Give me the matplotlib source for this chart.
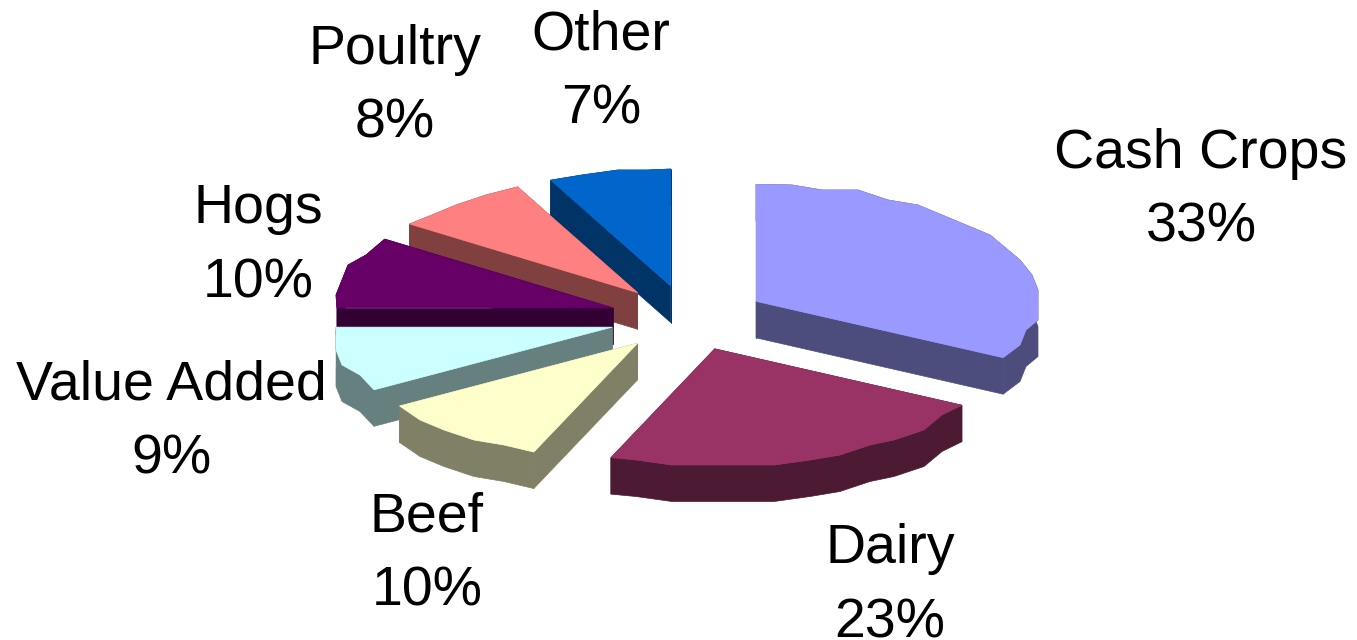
import numpy as np
import matplotlib
matplotlib.use("Agg")
import matplotlib.pyplot as plt

labels = ["Cash Crops", "Dairy", "Beef", "Value Added", "Hogs", "Poultry", "Other"]
shares = [33, 23, 10, 9, 10, 8, 7]
colors = ["#9999FF", "#993366", "#FFFFCC", "#CCFFFF", "#660066", "#FF8080", "#0066CC"]
side_colors = ["#4D4D7D", "#4D1A33", "#808066", "#668080", "#330033", "#804040", "#003366"]
# first-line baselines of the two-line labels
label_pos = [(1201, 168), (890, 563), (427, 532), (171, 400), (258, 223), (395, 64), (601, 50)]

# pie geometry, in image pixels
cx, cy = 688, 318
rx, ry = 282, 117
left_limit = 276  # the original rim is cut flat on the left
explode = 79
depth = 36.5
step = np.radians(7)  # the rim is a rough polyline in the original
snap_x, snap_y = 6, 5

plt.rcParams["font.family"] = ["Liberation Sans", "DejaVu Sans"]
fig = plt.figure(figsize=(13.57, 6.40), dpi=100)
ax = fig.add_axes([0, 0, 1, 1])
ax.set_xlim(0, 1357)
ax.set_ylim(640, 0)
ax.axis("off")

edges = np.cumsum([0] + shares) / sum(shares) * 2 * np.pi


def wedge(start, end):
    mid = (start + end) / 2
    x0 = cx + explode * np.sin(mid)
    y0 = cy - explode * ry / rx * np.cos(mid)
    t = np.r_[start, np.arange(start + step, end - step / 2, step), end]
    x = x0 + np.maximum(rx * np.sin(t), -left_limit)
    y = y0 - ry * np.cos(t)
    # snap the inner rim points, keeping the two corners
    x[1:-1] = np.round(x[1:-1] / snap_x) * snap_x
    y[1:-1] = np.round(y[1:-1] / snap_y) * snap_y
    return x0, y0, x, y


# back slices first
order = np.argsort([-np.cos((edges[i] + edges[i + 1]) / 2) for i in range(len(shares))])
for i in order:
    x0, y0, x, y = wedge(edges[i], edges[i + 1])
    # extruded body is the rim band plus the two cut faces
    ax.fill(np.r_[x, x[::-1]], np.r_[y, y[::-1] + depth], color=side_colors[i], lw=0.5)
    for xe, ye in [(x[0], y[0]), (x[-1], y[-1])]:
        ax.fill([x0, xe, xe, x0], [y0, ye, ye + depth, y0 + depth], color=side_colors[i], lw=0.5)
    ax.fill(np.r_[x0, x], np.r_[y0, y], color=colors[i], lw=0.5)

for name, share, pos in zip(labels, shares, label_pos):
    # two separate lines, the gap is wider than any normal line spacing
    ax.text(pos[0], pos[1], name, ha="center", va="baseline", fontsize=40, color="black")
    ax.text(pos[0], pos[1] + 74, f"{share}%", ha="center", va="baseline", fontsize=40, color="black")

fig.savefig("out.png", dpi=100)
